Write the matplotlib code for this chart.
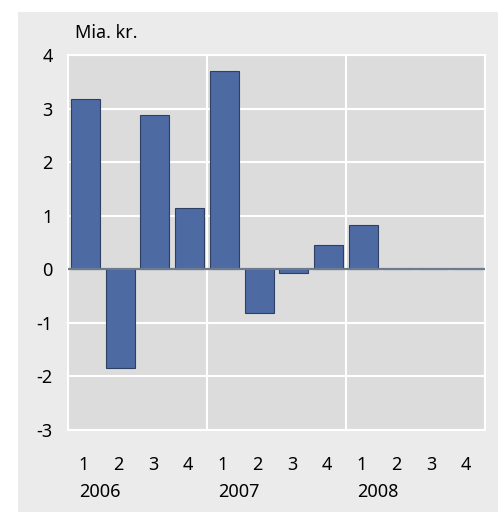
import matplotlib
matplotlib.use("Agg")
import matplotlib.pyplot as plt
from matplotlib.transforms import blended_transform_factory

# ── Data ────────────────────────────────────────────────────
quarters = ["1", "2", "3", "4"] * 3
years = ["2006", "2007", "2008"]
values = [3.18, -1.85, 2.88, 1.15, 3.70, -0.82, -0.075, 0.45, 0.82, 0.0, 0.0, 0.0]
yticks = [-3, -2, -1, 0, 1, 2, 3, 4]
unit_label = "Mia. kr."

# ── Style ───────────────────────────────────────────────────
plt.rcParams.update({
    "font.family": ["Noto Sans", "DejaVu Sans"],
    "font.size": 13,
})
PANEL_BG = "#EBEBEB"
AXES_BG = "#DCDCDC"
BAR_COLOR = "#4D6AA3"
BAR_EDGE = "#2E3F62"
ZERO_LINE = "#6E7A8E"

fig = plt.figure(figsize=(5.04, 5.16), dpi=100)
fig.patch.set_facecolor("white")

# light grey panel behind everything
bg = fig.add_axes([18 / 504, 4 / 516, 480 / 504, 500 / 516], zorder=0)
bg.set_facecolor(PANEL_BG)
bg.set_xticks([])
bg.set_yticks([])
for s in bg.spines.values():
    s.set_visible(False)

ax = fig.add_axes([68 / 504, 86 / 516, 417 / 504, 375 / 516], zorder=1)
ax.set_facecolor(AXES_BG)

x = list(range(len(values)))
ax.bar(x, values, width=0.84, color=BAR_COLOR, edgecolor=BAR_EDGE,
       linewidth=0.8, zorder=3)
ax.axhline(0, color=ZERO_LINE, linewidth=1.6, zorder=4)

ax.set_xlim(-0.5, len(values) - 0.5)
ax.set_ylim(-3, 4)
ax.set_yticks(yticks)
ax.set_yticklabels([str(t) for t in yticks])
ax.tick_params(axis="y", length=0, pad=11)
ax.set_xticks([])

# white grid: horizontal at each unit, vertical at year boundaries
for t in yticks:
    ax.axhline(t, color="white", linewidth=1.5, zorder=1)
for b in [3.5, 7.5]:
    ax.axvline(b, color="white", linewidth=1.5, zorder=1)
for s in ax.spines.values():
    s.set_color("white")
    s.set_linewidth(1.5)

trans = blended_transform_factory(ax.transData, ax.transAxes)
for i, q in enumerate(quarters):
    ax.text(i - 0.05, -0.093, q, transform=trans, ha="center", va="center")
for j, yr in enumerate(years):
    ax.text(j * 4 + 0.42, -0.165, yr, transform=trans, ha="center", va="center")

fig.text(75 / 504, 1 - 33 / 516, unit_label, ha="left", va="center")

fig.savefig("out.png", dpi=100)
